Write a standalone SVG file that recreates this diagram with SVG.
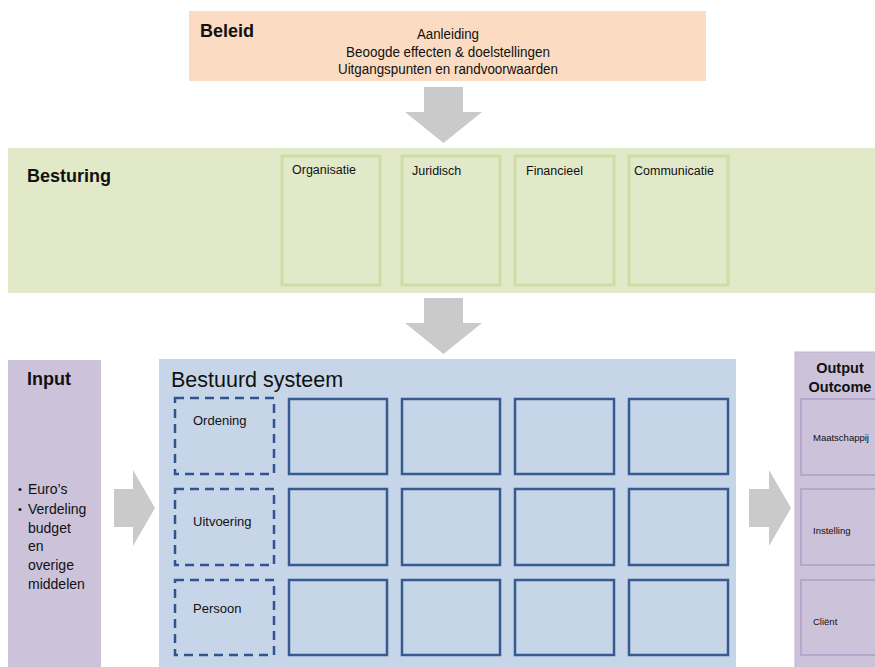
<svg xmlns="http://www.w3.org/2000/svg" width="875" height="667" viewBox="0 0 875 667">
  <style>
    text { font-family: "Liberation Sans", Arial, sans-serif; fill: #111; }
    .h { font-weight: bold; font-size: 18px; }
    .s { font-size: 12.5px; }
    .n { font-family: "Liberation Sans Narrow", "Liberation Sans", Arial, sans-serif; font-size: 14px; }
    .arrow { fill: #CACACA; }
    .col { fill: #E2E9C9; stroke: #D0DCA5; stroke-width: 3; }
    .dash { fill: none; stroke: #2F5590; stroke-width: 2.5; stroke-dasharray: 9 6; }
    .cell { fill: none; stroke: #375B91; stroke-width: 2.5; }
    .out { fill: #CCC2DA; stroke: #B5A7CB; stroke-width: 2; }
  </style>

  <!-- Beleid -->
  <g id="beleid">
    <rect x="189" y="11" width="517" height="70" fill="#FBDCC2"/>
    <text class="h" x="200" y="37">Beleid</text>
    <text class="n" x="448" y="39" text-anchor="middle" textLength="62" lengthAdjust="spacingAndGlyphs">Aanleiding</text>
    <text class="n" x="448" y="57" text-anchor="middle" textLength="204" lengthAdjust="spacingAndGlyphs">Beoogde effecten &amp; doelstellingen</text>
    <text class="n" x="448" y="74" text-anchor="middle" textLength="220" lengthAdjust="spacingAndGlyphs">Uitgangspunten en randvoorwaarden</text>
  </g>

  <!-- Besturing -->
  <g id="besturing">
    <rect x="8" y="148" width="867" height="145" fill="#E2E9C9"/>
    <text class="h" x="27" y="182">Besturing</text>
    <rect class="col" x="282" y="156" width="98" height="129"/>
    <rect class="col" x="402" y="156" width="98" height="129"/>
    <rect class="col" x="515" y="156" width="99" height="129"/>
    <rect class="col" x="629" y="156" width="99" height="129"/>
    <text class="s" x="292" y="174">Organisatie</text>
    <text class="s" x="412" y="175">Juridisch</text>
    <text class="s" x="526" y="175">Financieel</text>
    <text class="s" x="634" y="175">Communicatie</text>
  </g>

  <!-- Input -->
  <g id="input">
    <rect x="8" y="360" width="93" height="307" fill="#CCC2DA"/>
    <text class="h" x="27" y="385">Input</text>
    <g font-size="14">
      <text x="18" y="493" font-size="11">•</text>
      <text x="28" y="494">Euro’s</text>
      <text x="18" y="513" font-size="11">•</text>
      <text x="28" y="514">Verdeling</text>
      <text x="28" y="533">budget</text>
      <text x="28" y="551">en</text>
      <text x="28" y="570">overige</text>
      <text x="28" y="589">middelen</text>
    </g>
  </g>

  <!-- Bestuurd systeem -->
  <g id="bestuurd-systeem">
    <rect x="159" y="359" width="577" height="308" fill="#C6D6E8"/>
    <text x="171" y="387" font-size="21.5">Bestuurd systeem</text>
    <rect class="dash" x="175" y="398" width="99" height="76"/>
    <rect class="dash" x="175" y="489" width="99" height="76"/>
    <rect class="dash" x="175" y="580" width="99" height="75"/>
    <text font-size="13" x="193" y="425">Ordening</text>
    <text font-size="13" x="193" y="526">Uitvoering</text>
    <text font-size="13" x="193" y="613">Persoon</text>
    <g>
      <rect class="cell" x="289" y="399" width="98" height="75"/>
      <rect class="cell" x="402" y="399" width="98" height="75"/>
      <rect class="cell" x="515" y="399" width="99" height="75"/>
      <rect class="cell" x="629" y="399" width="99" height="75"/>
      <rect class="cell" x="289" y="489" width="98" height="76"/>
      <rect class="cell" x="402" y="489" width="98" height="76"/>
      <rect class="cell" x="515" y="489" width="99" height="76"/>
      <rect class="cell" x="629" y="489" width="99" height="76"/>
      <rect class="cell" x="289" y="580" width="98" height="75"/>
      <rect class="cell" x="402" y="580" width="98" height="75"/>
      <rect class="cell" x="515" y="580" width="99" height="75"/>
      <rect class="cell" x="629" y="580" width="99" height="75"/>
    </g>
  </g>

  <!-- Output / Outcome -->
  <g id="output">
    <rect x="795" y="352" width="90" height="320" fill="#CCC2DA" stroke="#C0B4D2" stroke-width="1"/>
    <text x="840" y="373" font-size="14.5" font-weight="bold" text-anchor="middle">Output</text>
    <text x="840" y="392" font-size="14.5" font-weight="bold" text-anchor="middle">Outcome</text>
    <rect class="out" x="801" y="399" width="85" height="76"/>
    <rect class="out" x="801" y="489" width="85" height="76"/>
    <rect class="out" x="801" y="580" width="85" height="75"/>
    <text x="813" y="441" font-size="9.5">Maatschappij</text>
    <text x="813" y="534" font-size="9.5">Instelling</text>
    <text x="813" y="625" font-size="9.5">Cliënt</text>
  </g>

  <!-- Connectors: block arrows -->
  <g id="connectors">
    <polygon class="arrow" points="424,87 463,87 463,112 482,112 443.5,143 405,112 424,112"/>
    <polygon class="arrow" points="424,298 463,298 463,323 482,323 443.5,354 405,323 424,323"/>
    <polygon class="arrow" points="114,489 133,489 133,470 155,508 133,546 133,527 114,527"/>
    <polygon class="arrow" points="749,489 769,489 769,470 791,508 769,546 769,527 749,527"/>
  </g>
</svg>
